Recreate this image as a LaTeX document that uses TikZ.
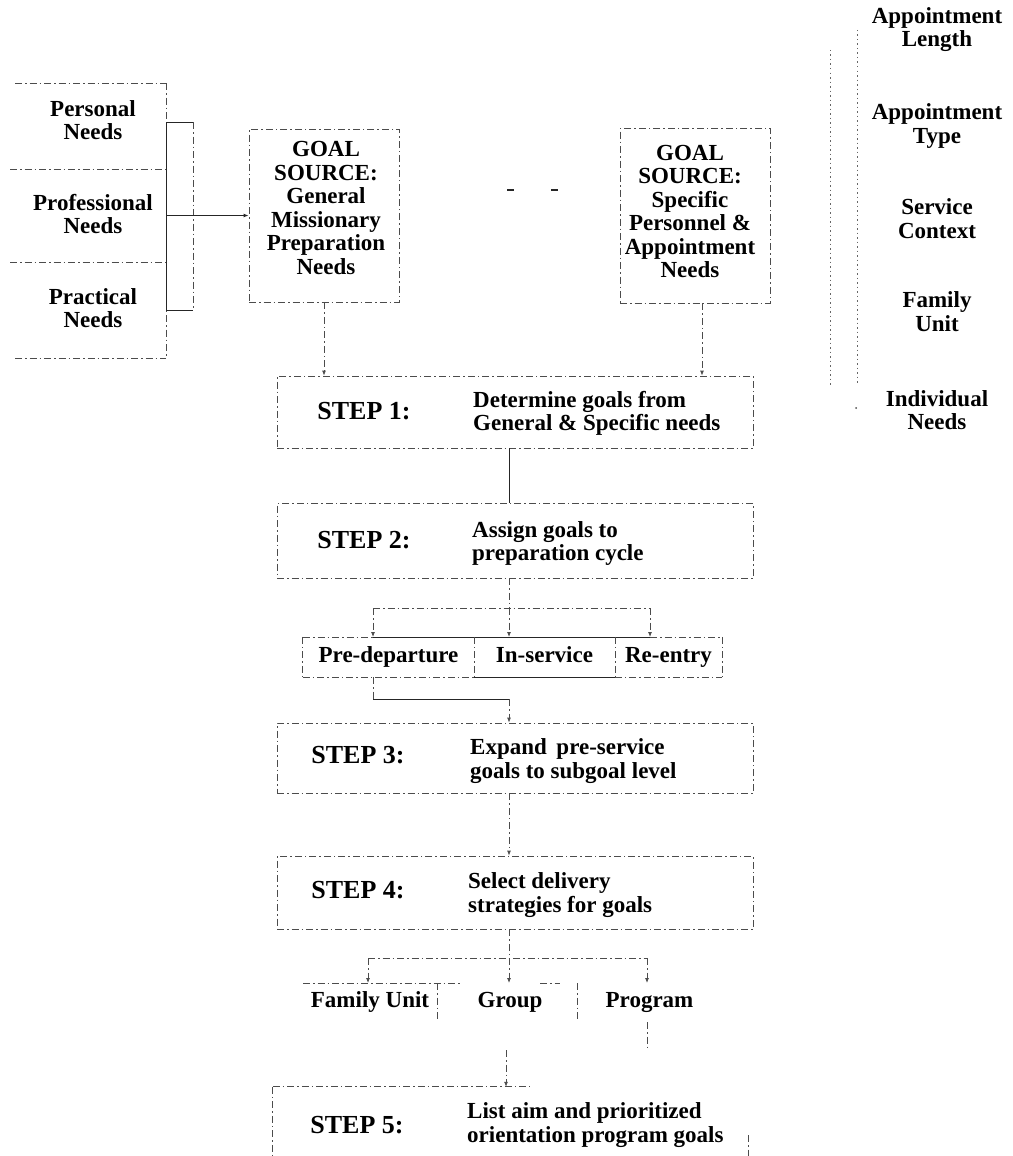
\documentclass[tikz,border=0pt]{standalone}
\usepackage{fontspec}
\setmainfont{Liberation Serif}
\usetikzlibrary{arrows.meta,calc}
\newcommand\bodyf{\fontsize{23}{23.5}\selectfont\bfseries}
\newcommand\stepf{\fontsize{26}{28}\selectfont\bfseries}
\tikzset{
  dl/.style={draw=black!70, line width=0.8pt, dash pattern=on 7pt off 3pt on 1.5pt off 3pt},
  dot/.style={draw=black!60, line width=0.8pt, dash pattern=on 1.5pt off 3pt},
  sl/.style={draw=black!85, line width=1pt},
  arr/.style={-{Latex[length=5pt,width=4pt]}},
  txt/.style={font=\bodyf, align=center, inner sep=0pt},
  desc/.style={font=\bodyf, align=left, anchor=west, inner sep=0pt},
  steplbl/.style={font=\stepf, inner sep=0pt, text height=17pt, text depth=0pt},
  boxn/.style={dl, inner sep=0pt},
  cell/.style={inner sep=0pt, font=\bodyf, text height=15pt, text depth=5pt},
}
\begin{document}
\begin{tikzpicture}[x=1pt, y=-1pt]
\useasboundingbox (0,0) rectangle (1012,1156);

% ---------- left column: needs ----------
\node[txt] (pers) at (93,120) {Personal\\Needs};
\node[txt] (prof) at (93,214) {Professional\\Needs};
\node[txt] (prac) at (93,308) {Practical\\Needs};
\draw[dl] (15,83) -- (166,83);
\draw[dl] (10,169) -- (166,169);
\draw[dl] (10,262) -- (166,262);
\draw[dl] (15,358) -- (166,358);
\draw[dl] (166,83) -- (166,358);

% bracket
\draw[sl] (193,122) -- (166,122) -- (166,310) -- (193,310);
\draw[dl] (193,122) -- (193,310);

% ---------- goal sources ----------
\node[boxn, minimum width=150, minimum height=173] (gen) at (324,215.5) {};
\node[txt] (gent) at (326,208) {GOAL\\SOURCE:\\General\\Missionary\\Preparation\\Needs};
\node[boxn, minimum width=150, minimum height=175] (spec) at (695,215.5) {};
\node[txt] (spect) at (690,211.5) {GOAL\\SOURCE:\\Specific\\Personnel \&\\Appointment\\Needs};

\coordinate (brk) at (166,215.5);
\draw[sl, arr] (brk) -- (gen.west);

% small marks between goal boxes
\draw[sl, line width=1.4pt] (507,190) -- (514,190);
\draw[sl, line width=1.4pt] (551,190) -- (558,190);

% ---------- right column ----------
\node[txt] (alen) at (937,29.5) {Appointment\\Length};
\node[txt] (atyp) at (937,126) {Appointment\\Type};
\node[txt] (sctx) at (937,218.5) {Service\\Context};
\node[txt] (fam) at (937,311.5) {Family\\Unit};
\node[txt] (ind) at (937,410) {Individual\\Needs};
\draw[dot] (830,50) -- (830,385);
\draw[dot] (857,30) -- (857,385);
\fill[black!70] (856,408) circle (1pt);

% ---------- STEP 1 ----------
\node[boxn, minimum width=476, minimum height=72] (s1) at (515,412) {};
\node[steplbl] (s1l) at (364,411) {STEP 1:};
\node[desc] (s1d) at (473,413.5) {Determine goals from\\General \& Specific needs};

\draw[dl, arr] (gen.south) -- (gen.south |- s1.north);
\draw[dl, arr] ([xshift=7pt]spec.south) -- ([xshift=7pt]spec.south |- s1.north);

% ---------- STEP 2 ----------
\node[boxn, minimum width=476, minimum height=75] (s2) at (515,540.5) {};
\node[steplbl] (s2l) at (364,540) {STEP 2:};
\node[desc] (s2d) at (472,543.5) {Assign goals to\\preparation cycle};

\draw[sl] ([xshift=-6pt]s1.south) -- ([xshift=-6pt]s1.south |- s2.north);

% ---------- preparation cycle ----------
\node[cell, minimum width=171, minimum height=40] (pd) at (388.5,657) {Pre-departure};
\node[cell, minimum width=141, minimum height=40] (ins) at (544.5,657) {In-service};
\node[cell, minimum width=107, minimum height=40] (re) at (668.5,657) {Re-entry};

\coordinate (j2) at (509,608);
\draw[dl] ([xshift=-6pt]s2.south) -- (j2);
\draw[dl] (373,608) -- (650,608);
\draw[dl, arr] (373,608) -- (373,637);
\draw[dl, arr] (j2) -- (509,637);
\draw[dl, arr] (650,608) -- (650,637);
\draw[sl] (373,637) -- (650,637);
\draw[dl] (303,637) -- (373,637);
\draw[dl] (650,637) -- (722,637);
\draw[dl] (pd.north west) -- (pd.south west);
\draw[dl] (pd.south west) -- (pd.south east);
\draw[sl] (ins.south west) -- (ins.south east);
\draw[dl] (re.south west) -- (re.south east);
\draw[dl] (pd.north east) -- (pd.south east);
\draw[dl] (ins.north east) -- (ins.south east);
\draw[dl] (re.north east) -- (re.south east);

% ---------- STEP 3 ----------
\node[boxn, minimum width=476, minimum height=70] (s3) at (515,758) {};
\node[steplbl] (s3l) at (358,755) {STEP 3:};
\node[desc] (s3d) at (470,761) {Expand\, pre-service\\goals to subgoal level};

\coordinate (pdb) at (373,699);
\coordinate (pdc) at (509,699);
\draw[dl] (pd.south -| 373,0) -- (pdb);
\draw[sl] (pdb) -- (pdc);
\draw[dl, arr] (pdc) -- (pdc |- s3.north);

% ---------- STEP 4 ----------
\node[boxn, minimum width=476, minimum height=73] (s4) at (515,892.5) {};
\node[steplbl] (s4l) at (358,890) {STEP 4:};
\node[desc] (s4d) at (468,895) {Select delivery\\strategies for goals};

\draw[dl, arr] ([xshift=-6pt]s3.south) -- ([xshift=-6pt]s3.south |- s4.north);

% ---------- delivery strategies ----------
\node[cell, minimum width=134, minimum height=39] (fu) at (370,1002.5) {Family Unit};
\node[cell, minimum width=140, minimum height=39] (gr) at (510,1002.5) {Group};
\node[cell, minimum width=145, minimum height=39] (pg) at (649.5,1002.5) {Program};

\coordinate (j4) at (509,958);
\draw[dl] ([xshift=-6pt]s4.south) -- (j4);
\draw[dl] (368,958) -- (647,958);
\draw[dl, arr] (368,958) -- (368,983);
\draw[dl, arr] (j4) -- (509,983);
\draw[dl, arr] (647,958) -- (647,983);
\draw[dl] (303,983) -- (460,983);
\draw[dl] (540,983) -- (560,983);
\draw[dl] (437,983) -- (437,1022);
\draw[dl] (577,983) -- (577,1022);
\draw[dl] (647,1022) -- (647,1050);

% ---------- STEP 5 ----------
\coordinate (gtop) at (506,1050);
\node[inner sep=0pt, minimum width=475, minimum height=90] (s5) at (510.5,1132) {};
\node[steplbl] (s5l) at (357,1125) {STEP 5:};
\node[desc] (s5d) at (467,1125) {List aim and prioritized\\orientation program goals};
\draw[dl] (s5.north west) -- ++(257,0);
\draw[dl] (s5.north west) -- (s5.south west);
\draw[dl] (748,1135) -- (748,1160);
\draw[dl, arr] (gtop) -- (gtop |- s5.north);

\end{tikzpicture}
\end{document}
